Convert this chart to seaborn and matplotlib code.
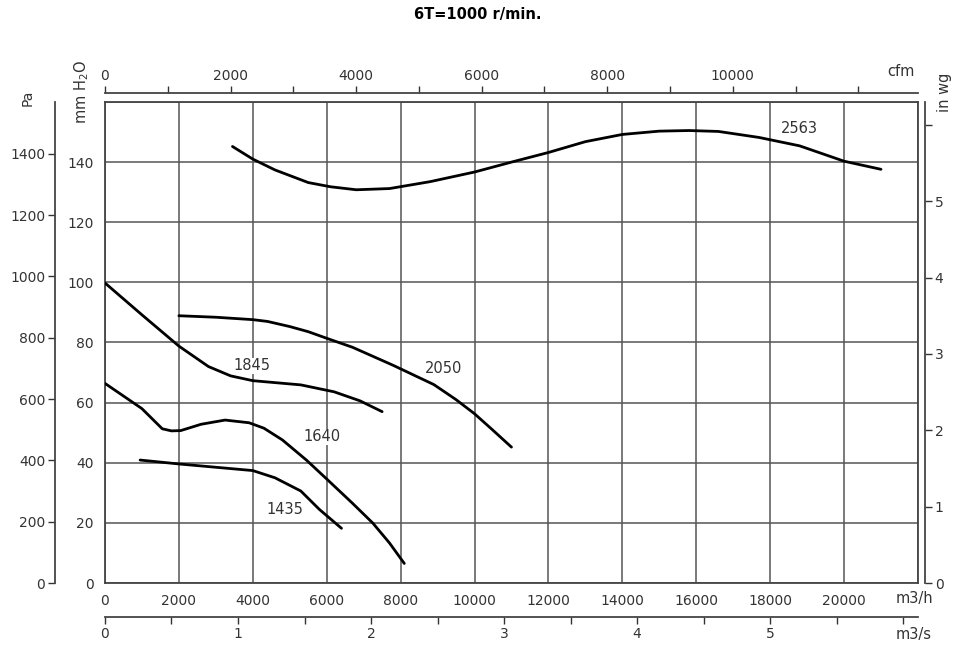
import matplotlib
matplotlib.use('Agg')
import matplotlib.pyplot as plt
import seaborn as sns
import numpy as np
import pandas as pd

# fan curves, flow in m3/h, pressure in mm H2O
flow_2563 = [3450, 4000, 4600, 5500, 6100, 6800, 7700, 8800, 10000, 11000,
             12000, 13000, 14000, 15000, 15800, 16600, 17700, 18800, 20000, 21000]
mm_2563 = [145.2, 141.0, 137.4, 133.2, 131.8, 130.8, 131.2, 133.5, 136.7, 140.0,
           143.2, 146.8, 149.2, 150.3, 150.5, 150.2, 148.2, 145.4, 140.3, 137.6]

flow_2050 = [2000, 3000, 4000, 4400, 5000, 5500, 6000, 6700, 7800, 8900, 9500, 10000, 10500, 11000]
mm_2050 = [88.9, 88.4, 87.6, 87.0, 85.3, 83.6, 81.4, 78.4, 72.4, 66.0, 61.0, 56.3, 50.8, 45.2]

flow_1845 = [0, 1000, 2000, 2800, 3400, 4000, 5300, 6200, 6900, 7500]
mm_1845 = [99.8, 89.2, 78.8, 72.0, 68.9, 67.3, 65.9, 63.6, 60.6, 57.0]

flow_1640 = [0, 1000, 1550, 1800, 2050, 2600, 3250, 3900, 4300, 4800,
             5450, 6000, 6700, 7250, 7700, 8100]
mm_1640 = [66.4, 58.0, 51.3, 50.6, 50.7, 52.8, 54.2, 53.3, 51.5, 47.6,
           40.9, 34.6, 26.5, 19.9, 13.3, 6.5]

flow_1435 = [950, 2000, 3000, 4000, 4600, 5300, 5800, 6400]
mm_1435 = [40.9, 39.6, 38.5, 37.4, 35.0, 30.6, 24.5, 18.2]

curve_names = ['2563', '2050', '1845', '1640', '1435']
curve_flows = [flow_2563, flow_2050, flow_1845, flow_1640, flow_1435]
curve_mm = [mm_2563, mm_2050, mm_1845, mm_1640, mm_1435]
label_flow = [18800, 9150, 3970, 5860, 4870]
label_mm = [151.2, 71.5, 72.2, 48.6, 24.4]

m3h_ticks = list(range(0, 20001, 2000))
mm_ticks = list(range(0, 141, 20))
pa_ticks = list(range(0, 1401, 200))
inwg_ticks = list(range(0, 7))
cfm_ticks = list(range(0, 12001, 1000))
m3s_ticks = list(np.arange(0, 6.01, 0.5))

ink = '#333333'
sns.set_style('white')
plt.rcParams['font.family'] = ['DejaVu Sans']
plt.rcParams['font.size'] = 10

fig = plt.figure(figsize=(9.57, 6.45), dpi=100)
ax = fig.add_axes([0.1097, 0.0961, 0.8495, 0.7458])

df = pd.concat([pd.DataFrame({'flow': f, 'mm': p, 'curve': n})
                for n, f, p in zip(curve_names, curve_flows, curve_mm)])
sns.lineplot(data=df, x='flow', y='mm', units='curve', estimator=None, sort=False,
             color='black', linewidth=2.0, ax=ax, zorder=3)

for n, fx, py in zip(curve_names, label_flow, label_mm):
    ax.text(fx, py, n, ha='center', va='center', fontsize=10.5, color=ink, zorder=4,
            bbox=dict(facecolor='white', edgecolor='none', pad=0.5))

ax.set_xlim(0, 22000)
ax.set_ylim(0, 160)
ax.set_xlabel('')
ax.set_ylabel('')
ax.set_xticks(m3h_ticks)
ax.set_xticklabels([str(t) for t in m3h_ticks])
ax.set_yticks(mm_ticks)
ax.set_yticklabels([str(t) for t in mm_ticks])
ax.xaxis.set_minor_locator(matplotlib.ticker.FixedLocator([22000]))
ax.yaxis.set_minor_locator(matplotlib.ticker.FixedLocator([160]))
ax.grid(True, which='both', color='#555555', linewidth=1.1)
ax.tick_params(axis='both', direction='out', length=5, width=1, color=ink,
               labelcolor=ink, labelsize=10, pad=3)
ax.tick_params(which='minor', length=0)
for s in ax.spines.values():
    s.set_color('#444444')
    s.set_linewidth(1.3)

# secondary scales
top = ax.secondary_xaxis(1.0187, functions=(lambda x: x / 1.699011, lambda x: x * 1.699011))
top.set_xticks(cfm_ticks)
top.set_xticklabels([str(t) if t % 2000 == 0 and t <= 10000 else '' for t in cfm_ticks])

bot = ax.secondary_xaxis(-0.0707, functions=(lambda x: x / 3600.0, lambda x: x * 3600.0))
bot.set_xticks(m3s_ticks)
bot.set_xticklabels([str(int(t)) if t == int(t) and t <= 5 else '' for t in m3s_ticks])

pa = ax.secondary_yaxis(-0.0615, functions=(lambda y: y * 9.80665, lambda y: y / 9.80665))
pa.set_yticks(pa_ticks)
pa.set_yticklabels([str(t) for t in pa_ticks])

inwg = ax.secondary_yaxis(1.0086, functions=(lambda y: y / 25.4, lambda y: y * 25.4))
inwg.set_yticks(inwg_ticks)
inwg.set_yticklabels([str(t) if t <= 5 else '' for t in inwg_ticks])

for sec in (top, bot, pa, inwg):
    sec.tick_params(direction='out', length=5, width=1, color=ink,
                    labelcolor=ink, labelsize=10, pad=2)
    for s in sec.spines.values():
        s.set_color('#444444')
        s.set_linewidth(1.3)

# unit labels
fig.text(28 / 957, 1 - 98 / 645, 'Pa', rotation=90, ha='center', va='center', color=ink, fontsize=10)
fig.text(82 / 957, 1 - 92 / 645, 'mm H$_2$O', rotation=90, ha='center', va='center', color=ink, fontsize=10.5)
fig.text(901 / 957, 1 - 71 / 645, 'cfm', ha='center', va='center', color=ink, fontsize=10.5)
fig.text(944 / 957, 1 - 92 / 645, 'in wg', rotation=90, ha='center', va='center', color=ink, fontsize=10.5)
fig.text(914 / 957, 1 - 599 / 645, 'm3/h', ha='center', va='center', color=ink, fontsize=10.5)
fig.text(914 / 957, 1 - 634 / 645, 'm3/s', ha='center', va='center', color=ink, fontsize=10.5)

fig.text(478 / 957, 1 - 15 / 645, '6T=1000 r/min.', ha='center', va='center',
         fontsize=10.5, fontweight='bold', color='black')

fig.savefig('out.png', dpi=100)
